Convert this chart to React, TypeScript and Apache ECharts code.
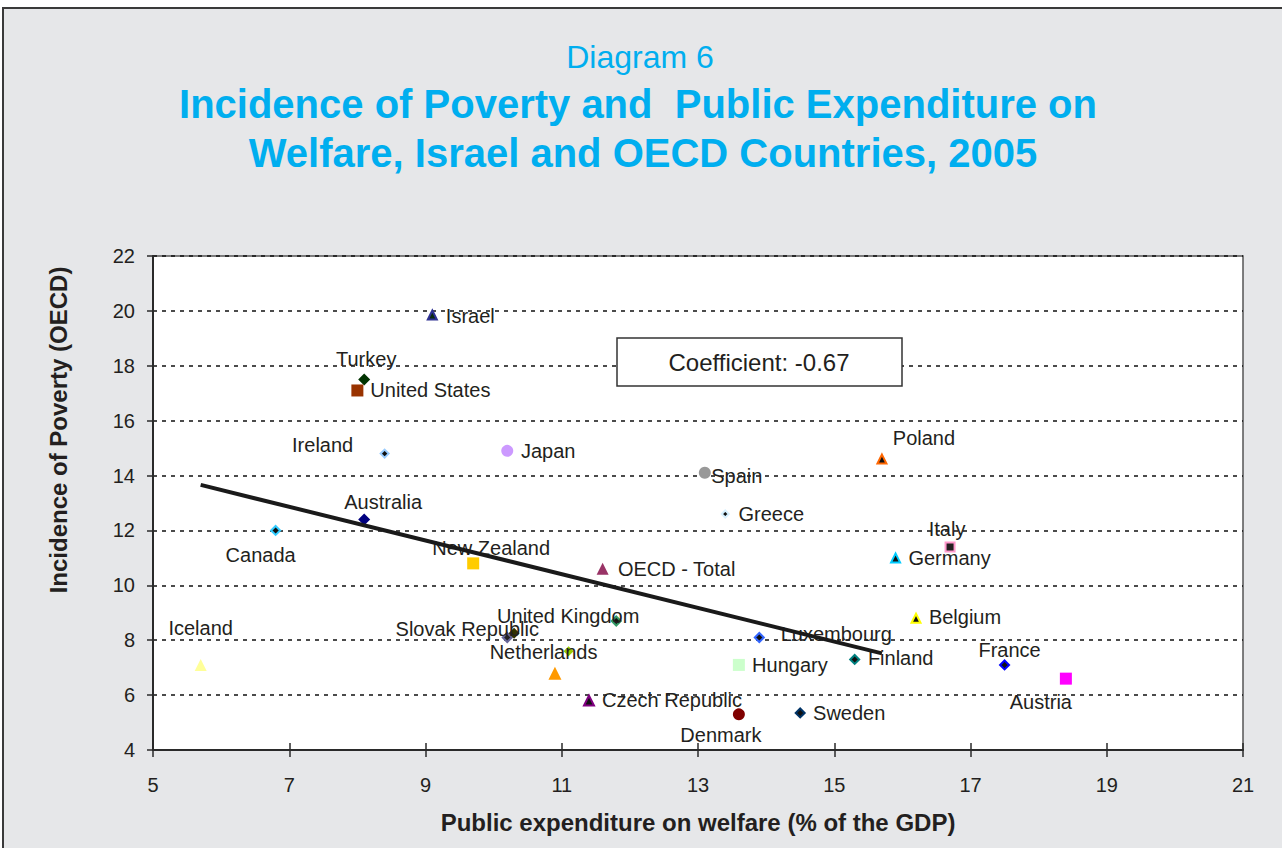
import React, { useEffect, useRef } from "react";
import * as echarts from "echarts";

const countries = [
  "Israel", "Turkey", "United States", "Ireland", "Japan", "Spain", "Greece", "Poland",
  "Italy", "Germany", "Belgium", "France", "Austria", "Finland", "Luxembourg", "Hungary",
  "Sweden", "Denmark", "Czech Republic", "Netherlands", "", "United Kingdom", "Switzerland",
  "Slovak Republic", "", "Australia", "Canada", "New Zealand", "OECD - Total", "Iceland",
];
const expenditure = [
  9.1, 8.1, 8.0, 8.4, 10.2, 13.1, 13.4, 15.7,
  16.7, 15.9, 16.2, 17.5, 18.4, 15.3, 13.9, 13.6,
  14.5, 13.6, 11.4, 11.1, 10.9, 11.8, 13.75,
  10.2, 10.3, 8.1, 6.8, 9.7, 11.6, 5.7,
];
const poverty = [
  19.85, 17.5, 17.1, 14.8, 14.9, 14.1, 12.6, 14.6,
  11.4, 11.0, 8.8, 7.1, 6.6, 7.3, 8.1, 7.1,
  5.35, 5.3, 5.8, 7.6, 6.8, 8.7, 8.7,
  8.1, 8.25, 12.4, 12.0, 10.8, 10.6, 7.1,
];
const trendX = [5.7, 15.7];
const trendY = [13.66, 7.52];
const xTicks = [5, 21, 2];
const yTicks = [4, 22, 2];
const coefficientText = "Coefficient: -0.67";

// styles: [symbol, size, fill, border]
const markerStyles: [string, number, string, string | null][] = [
  ["triangle", 9, "#0b2a10", "#2e3192"],
  ["diamond", 12, "#003300", null],
  ["rect", 12, "#993300", null],
  ["diamond", 8, "#111111", "#99ccff"],
  ["circle", 12, "#cc99ff", null],
  ["circle", 12, "#999999", null],
  ["diamond", 7, "#111111", "#d6f0ff"],
  ["triangle", 9, "#111111", "#ff6600"],
  ["rect", 9, "#231f20", "#ff99cc"],
  ["triangle", 9, "#111111", "#00ccff"],
  ["triangle", 9, "#111111", "#ffff00"],
  ["diamond", 9, "#111111", "#0000ff"],
  ["rect", 12, "#ff00ff", null],
  ["diamond", 9, "#111111", "#008080"],
  ["diamond", 9, "#111111", "#3366ff"],
  ["rect", 12, "#ccffcc", null],
  ["diamond", 9, "#111111", "#003366"],
  ["circle", 12, "#800000", null],
  ["triangle", 10, "#111111", "#800080"],
  ["diamond", 10, "#99cc00", null],
  ["triangle", 13, "#ff9900", null],
  ["diamond", 9, "#111111", "#339966"],
  ["none", 0, "#000000", null],
  ["diamond", 9, "#222222", "#666699"],
  ["diamond", 11, "#333300", null],
  ["diamond", 12, "#000080", null],
  ["diamond", 9, "#111111", "#33ccff"],
  ["rect", 12, "#ffcc00", null],
  ["triangle", 12, "#993366", null],
  ["triangle", 12, "#ffff99", null],
];

const labelOffsets: [number, number][] = [
  [38, 1], [2, -21], [73, 0], [-62, -9], [41, 0], [32, 3], [46, 0], [42, -21],
  [-3, -18], [54, 0], [49, -1], [5, -15], [-25, 23], [46, -1], [77, -3], [51, 0],
  [49, 0], [-18, 21], [83, -1], [-25, 1], [0, 0], [-48, -5], [-44, -14],
  [-40, -8], [0, 0], [19, -17], [-15, 25], [18, -15], [74, 0], [0, -37],
];

const FONT = "'Liberation Sans', Arial, Helvetica, sans-serif";
const TEXT = "#231f20";
const BLUE = "#00aeef";

export default function App() {
  const ref = useRef<HTMLDivElement>(null);
  useEffect(() => {
    if (!ref.current) return;
    const chart = echarts.init(ref.current, null, { renderer: "svg" });

    const scatterData = countries.map((name, i) => {
      const [symbol, size, fill, border] = markerStyles[i];
      return {
        name,
        value: [expenditure[i], poverty[i]],
        symbol,
        symbolSize: size,
        itemStyle: {
          color: fill,
          borderColor: border ?? fill,
          borderWidth: border ? 2 : 0,
          opacity: 1,
        },
        label: {
          show: name !== "",
          position: "inside",
          offset: labelOffsets[i],
          formatter: name,
          color: TEXT,
          fontSize: 20,
          fontFamily: FONT,
        },
      };
    });

    const option: any = {
      animation: false,
      backgroundColor: "#e6e7e9",
      textStyle: { fontFamily: FONT },
      grid: {
        left: 153,
        right: 39,
        top: 256,
        bottom: 98,
        show: true,
        backgroundColor: "#ffffff",
        borderColor: "#555555",
        borderWidth: 1.5,
        containLabel: false,
      },
      xAxis: [
        {
          type: "value",
          min: xTicks[0],
          max: xTicks[1],
          interval: xTicks[2],
          name: "Public expenditure on welfare (% of the GDP)",
          nameLocation: "middle",
          nameGap: 60,
          nameTextStyle: { fontSize: 24, fontWeight: "bold", color: TEXT, fontFamily: FONT },
          axisLine: { show: true, lineStyle: { color: "#2a2a2a", width: 2 } },
          axisTick: { show: true, length: 7, lineStyle: { color: "#2a2a2a", width: 1.5 } },
          axisLabel: { margin: 25, fontSize: 20, color: TEXT, fontFamily: FONT },
          splitLine: { show: false },
        },
        {
          type: "value",
          min: xTicks[0],
          max: xTicks[1],
          interval: xTicks[2],
          position: "bottom",
          axisLine: { show: false },
          axisTick: { show: true, inside: true, length: 7, lineStyle: { color: "#2a2a2a", width: 1.5 } },
          axisLabel: { show: false },
          splitLine: { show: false },
        },
      ],
      yAxis: {
        type: "value",
        min: yTicks[0],
        max: yTicks[1],
        interval: yTicks[2],
        axisLine: { show: true, lineStyle: { color: "#2a2a2a", width: 2 } },
        axisTick: { show: true, length: 6, lineStyle: { color: "#2a2a2a", width: 1.5 } },
        axisLabel: { margin: 18, fontSize: 20, color: TEXT, fontFamily: FONT },
        splitLine: {
          show: true,
          lineStyle: { color: "#111111", width: 1.5, type: [4, 5] },
        },
      },
      graphic: [
        { type: "rect", shape: { x: 0, y: 0, width: 1282, height: 8 }, style: { fill: "#ffffff" }, silent: true },
        { type: "rect", shape: { x: 0, y: 0, width: 3, height: 848 }, style: { fill: "#ffffff" }, silent: true },
        {
          type: "rect",
          shape: { x: 3, y: 8, width: 1290, height: 850 },
          style: { fill: "none", stroke: "#3a3a3a", lineWidth: 2 },
          silent: true,
        },
        {
          type: "text",
          x: 640,
          y: 57,
          style: { text: "Diagram 6", fill: BLUE, font: `32px ${FONT}`, align: "center", verticalAlign: "middle" },
        },
        {
          type: "text",
          x: 638,
          y: 104,
          style: {
            text: "Incidence of Poverty and  Public Expenditure on",
            fill: BLUE,
            font: `bold 40px ${FONT}`,
            align: "center",
            verticalAlign: "middle",
          },
        },
        {
          type: "text",
          x: 643,
          y: 153,
          style: {
            text: "Welfare, Israel and OECD Countries, 2005",
            fill: BLUE,
            font: `bold 40px ${FONT}`,
            align: "center",
            verticalAlign: "middle",
          },
        },
        {
          type: "text",
          x: 58,
          y: 430,
          rotation: Math.PI / 2,
          style: {
            text: "Incidence of Poverty (OECD)",
            fill: TEXT,
            font: `bold 24px ${FONT}`,
            align: "center",
            verticalAlign: "middle",
          },
        },
        {
          type: "rect",
          z: 100,
          shape: { x: 617, y: 338, width: 285, height: 48 },
          style: { fill: "#ffffff", stroke: "#333333", lineWidth: 1.5 },
        },
        {
          type: "text",
          z: 101,
          x: 759,
          y: 362,
          style: { text: coefficientText, fill: TEXT, font: `24px ${FONT}`, align: "center", verticalAlign: "middle" },
        },
      ],
      series: [
        {
          type: "scatter",
          xAxisIndex: 0,
          data: scatterData,
          z: 3,
        },
        {
          type: "line",
          xAxisIndex: 0,
          data: trendX.map((x, i) => [x, trendY[i]]),
          symbol: "none",
          lineStyle: { color: "#1a1a1a", width: 4 },
          z: 5,
          silent: true,
        },
      ],
    };

    chart.setOption(option);
    return () => chart.dispose();
  }, []);

  return (
    <div
      ref={ref}
      style={{ position: "absolute", left: 0, top: 0, width: 1282, height: 848 }}
    />
  );
}
